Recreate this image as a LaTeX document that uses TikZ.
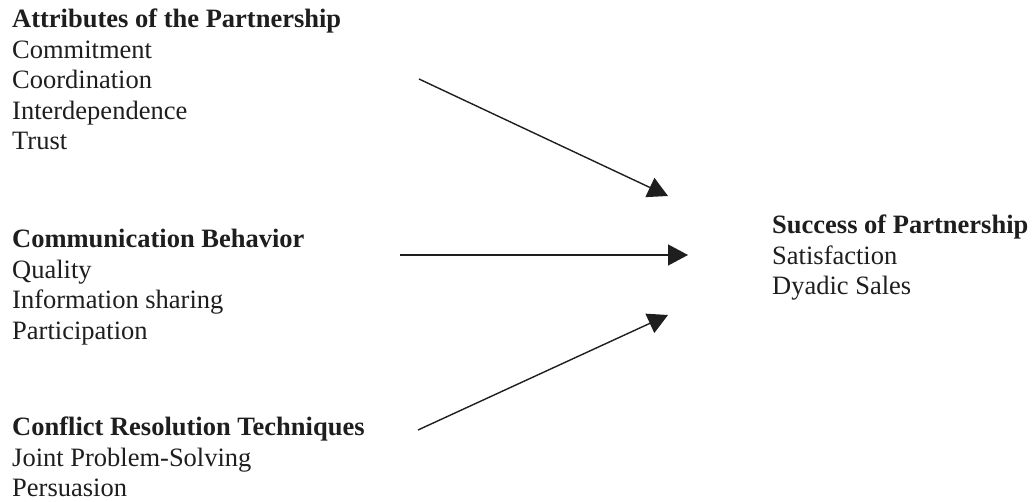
\documentclass[tikz,border=0pt]{standalone}
\usepackage{fontspec}
\setmainfont{Liberation Serif}
\usepackage{tikz}
\usetikzlibrary{arrows.meta}
\definecolor{mydark}{RGB}{30,30,30}
\tikzset{
  group/.style={anchor=north west, align=left, inner sep=0pt,
    font=\fontsize{26.5}{30.5}\selectfont, text=mydark},
  arrow/.style={-{Triangle[length=20pt, width=21pt]}, line width=1.4pt, color=mydark}
}

\begin{document}
\begin{tikzpicture}[x=1pt, y=-1pt]
  \useasboundingbox (0,0) rectangle (1034,502);
  % the three groups of factors and the outcome
  \node[group] (attr) at (12,9) {\textbf{Attributes of the Partnership}\\Commitment\\Coordination\\Interdependence\\Trust};
  \node[group] (comm) at (12,229) {\textbf{Communication Behavior}\\Quality\\Information sharing\\Participation};
  \node[group] (conf) at (12,417) {\textbf{Conflict Resolution Techniques}\\Joint Problem-Solving\\Persuasion};
  \node[group] (succ) at (772,215) {\textbf{Success of Partnership}\\Satisfaction\\Dyadic Sales};
  % arrow ends
  \coordinate (attrout) at (419,79);
  \coordinate (commout) at (400,255);
  \coordinate (confout) at (418,430);
  \coordinate (succin1) at (668,196);
  \coordinate (succin2) at (688,255);
  \coordinate (succin3) at (668,315);
  \draw[arrow] (attrout) -- (succin1);
  \draw[arrow] (commout) -- (succin2);
  \draw[arrow] (confout) -- (succin3);
\end{tikzpicture}
\end{document}
